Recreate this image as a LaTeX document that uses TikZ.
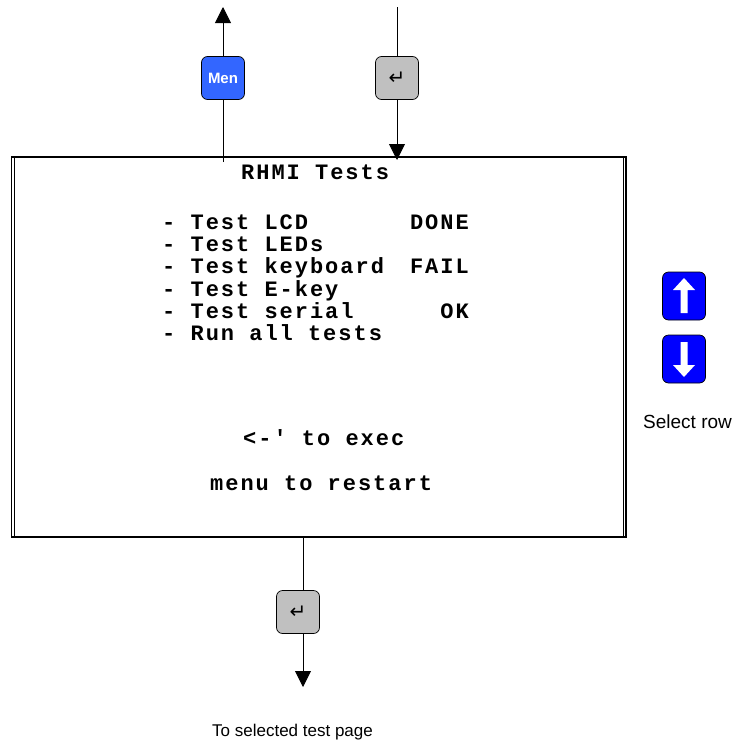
\documentclass[tikz,border=0pt]{standalone}
\usepackage{fontspec}
\setmainfont{Liberation Sans}
\newfontfamily\lcdfont[LetterSpace=9]{Liberation Mono}
\newfontfamily\symfont{DejaVu Sans}
\usetikzlibrary{arrows.meta,calc}
\definecolor{menblue}{RGB}{51,102,255}
\definecolor{keyblue}{RGB}{0,0,255}
\definecolor{keygray}{RGB}{192,192,192}
\tikzset{
  key/.style={draw=black, line width=0.7pt, rounded corners=6pt, minimum width=43pt, minimum height=43pt, inner sep=0pt},
  menkey/.style={key, fill=menblue, text=white, font=\bfseries\fontsize{15}{15}\selectfont},
  enterkey/.style={key, fill=keygray, font=\symfont\fontsize{20}{20}\selectfont},
  rowkey/.style={key, fill=keyblue, minimum height=48pt},
  wire/.style={line width=0.9pt},
  flow/.style={wire, -{Triangle[width=16pt,length=16pt]}},
  lcd/.style={font=\lcdfont\fontsize{22}{22}\bfseries\selectfont, anchor=base west, inner sep=0pt},
  lcdstat/.style={lcd, anchor=base east},
  note/.style={font=\fontsize{17}{17}\selectfont, anchor=base west, inner sep=0pt},
}
\begin{document}
\begin{tikzpicture}[x=1pt,y=-1pt]
\useasboundingbox (0,0) rectangle (736,742);
% screen frame
\draw [line width=1.6pt] (11,157) -- (626,157) -- (626,537) -- (11,537);
\draw [line width=0.6pt] (11,157) -- (11,537);
\draw [line width=0.6pt] (14,157) -- (14,537);
\draw [line width=0.6pt] (623,157) -- (623,537);
\coordinate (menIn) at (223,162);
\coordinate (menOut) at (223,7);
\coordinate (entIn) at (397,7);
\coordinate (entOut) at (397,160);
\coordinate (exeIn) at (303,537);
\coordinate (exeOut) at (303,687);
% keys
\node[menkey] (men) at (223,78) {Men};
\node[enterkey] (enter) at (397,78) {↵};
\node[enterkey] (exec) at (298,612) {↵};
\node[rowkey] (up) at (684,296) {};
\node[rowkey] (down) at (684,359) {};
\draw [wire] (menIn) -- (men);
\draw [flow] (men) -- (menOut);
\draw [wire] (entIn) -- (enter);
\draw [flow] (enter) -- (entOut);
\draw [wire] (exeIn) -- (exeIn |- exec.north);
\draw [flow] (exeIn |- exec.south) -- (exeOut);
% arrows on the row keys
\fill [white] ($(up)+(0,-18)$) -- ++(11,12) -- ++(-7.5,0) -- ++(0,23) -- ++(-7,0) -- ++(0,-23) -- ++(-7.5,0) -- cycle;
\fill [white] ($(down)+(0,18)$) -- ++(11,-12) -- ++(-7.5,0) -- ++(0,-23) -- ++(-7,0) -- ++(0,23) -- ++(-7.5,0) -- cycle;
% screen text
\node[lcd] (title) at (241,179) {RHMI Tests};
\node[lcd] (row1) at (162,229) {- Test LCD};
\node[lcdstat] (stat1) at (469,229) {DONE};
\node[lcd] (row2) at (162,251) {- Test LEDs};
\node[lcd] (row3) at (162,273) {- Test keyboard};
\node[lcdstat] (stat3) at (469,273) {FAIL};
\node[lcd] (row4) at (162,296) {- Test E-key};
\node[lcd] (row5) at (162,318) {- Test serial};
\node[lcdstat] (stat5) at (469,318) {OK};
\node[lcd] (row6) at (162,340) {- Run all tests};
\node[lcd] (hint1) at (243,445) {<-' to exec};
\node[lcd] (hint2) at (210,490) {menu to restart};
% notes
\node[note, font=\fontsize{19}{19}\selectfont] (sel) at (643,428) {Select row};
\node[note] (dest) at (212,736) {To selected test page};
\end{tikzpicture}
\end{document}
